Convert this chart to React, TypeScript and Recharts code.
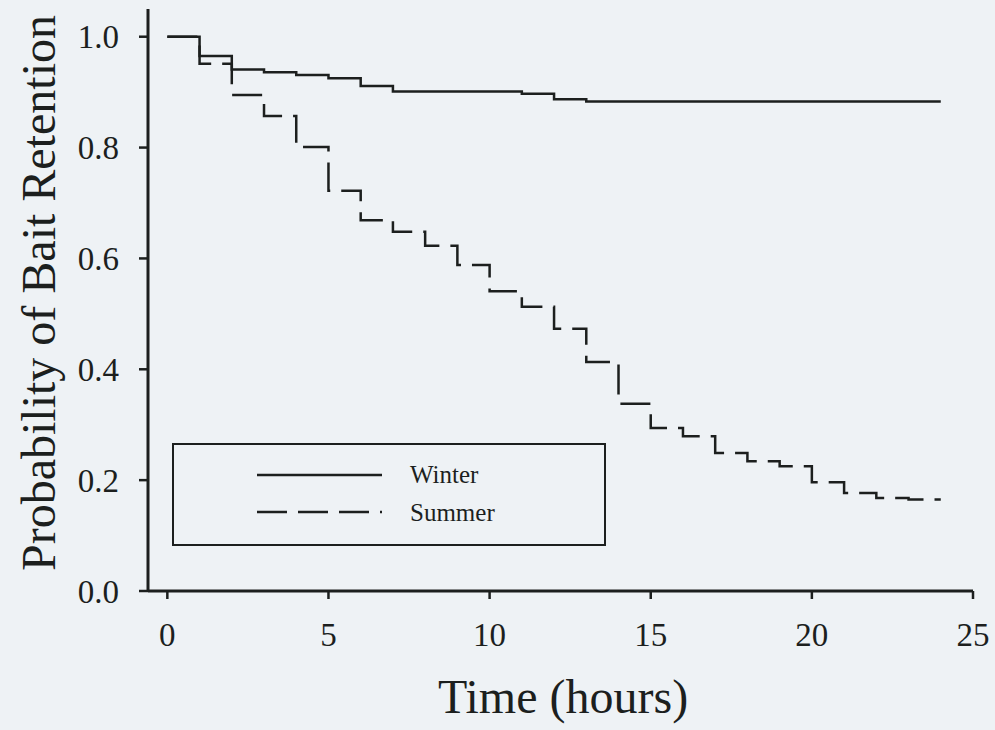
import React from "react";
import {
  LineChart,
  Line,
  XAxis,
  YAxis,
  Legend,
} from "recharts";

// hours since bait placement
const hours = [0, 1, 2, 3, 4, 5, 6, 7, 8, 9, 10, 11, 12, 13, 14, 15, 16, 17, 18, 19, 20, 21, 22, 23, 24];

// Kaplan-Meier style retention estimates
const winter = [
  1.0, 0.965, 0.941, 0.936, 0.931, 0.925, 0.911, 0.901, 0.901, 0.901, 0.901, 0.897, 0.887,
  0.883, 0.883, 0.883, 0.883, 0.883, 0.883, 0.883, 0.883, 0.883, 0.883, 0.883, 0.883,
];
const summer = [
  1.0, 0.951, 0.895, 0.857, 0.801, 0.722, 0.669, 0.648, 0.623, 0.588, 0.541, 0.513, 0.473,
  0.413, 0.338, 0.294, 0.279, 0.249, 0.234, 0.225, 0.196, 0.177, 0.168, 0.165, 0.165,
];

const xTicks = [0, 5, 10, 15, 20, 25];
const yTicks = [0, 0.2, 0.4, 0.6, 0.8, 1.0];

const data = hours.map((t, i) => ({ t, winter: winter[i], summer: summer[i] }));

const INK = "#1c1f1e";
const SERIF = "'Liberation Serif', 'Times New Roman', serif";
const DASH = "30 11";

const tickStyle = { fontFamily: SERIF, fontSize: 33, fill: INK };

const XTitle = () => (
  <text x={563} y={713} textAnchor="middle" fontFamily={SERIF} fontSize={48} fill={INK}>
    Time (hours)
  </text>
);

const YTitle = () => (
  <text
    transform="translate(55,293) rotate(-90)"
    textAnchor="middle"
    fontFamily={SERIF}
    fontSize={48}
    fill={INK}
  >
    Probability of Bait Retention
  </text>
);

function LegendBox() {
  return (
    <div
      style={{
        width: 430,
        height: 99,
        border: `2.5px solid ${INK}`,
        position: "relative",
      }}
    >
      <svg width={430} height={99} style={{ position: "absolute", left: 0, top: 0 }}>
        <line x1={83} x2={208} y1={30} y2={30} stroke={INK} strokeWidth={2.5} />
        <line x1={83} x2={208} y1={67} y2={67} stroke={INK} strokeWidth={2.5} strokeDasharray="30 11" />
        <text x={236} y={38} fontFamily={SERIF} fontSize={25} fill={INK}>
          Winter
        </text>
        <text x={236} y={76} fontFamily={SERIF} fontSize={25} fill={INK}>
          Summer
        </text>
      </svg>
    </div>
  );
}

export default function App() {
  return (
    <div
      style={{
        position: "absolute",
        left: 0,
        top: 0,
        width: 995,
        height: 730,
        background: "#eef2f5",
      }}
    >
      <LineChart
        width={995}
        height={730}
        data={data}
        margin={{ top: 9, right: 22, bottom: 0, left: 0 }}
      >
        <XAxis
          xAxisId="bottom"
          dataKey="t"
          type="number"
          domain={[-0.6, 25]}
          ticks={xTicks}
          allowDataOverflow
          height={139}
          tickSize={8}
          tickMargin={24}
          tick={tickStyle}
          axisLine={{ stroke: INK, strokeWidth: 3 }}
          tickLine={{ stroke: INK, strokeWidth: 2.5 }}
          label={<XTitle />}
        />
        <XAxis
          xAxisId="top"
          orientation="top"
          dataKey="t"
          type="number"
          domain={[-0.6, 25]}
          height={0}
          tick={false}
          tickLine={false}
          axisLine={{ stroke: INK, strokeWidth: 3 }}
        />
        <YAxis
          yAxisId="left"
          type="number"
          domain={[0, 1.05]}
          ticks={yTicks}
          allowDataOverflow
          width={148}
          tickSize={9}
          tickMargin={20}
          tick={tickStyle}
          tickFormatter={(v: number) => v.toFixed(1)}
          axisLine={{ stroke: INK, strokeWidth: 3 }}
          tickLine={{ stroke: INK, strokeWidth: 2.5 }}
          label={<YTitle />}
        />
        <YAxis
          yAxisId="right"
          orientation="right"
          type="number"
          domain={[0, 1.05]}
          width={0}
          tick={false}
          tickLine={false}
          axisLine={{ stroke: INK, strokeWidth: 3 }}
        />
        <Legend
          layout="horizontal"
          verticalAlign="middle"
          align="center"
          wrapperStyle={{ left: 172, top: 443, width: 435, height: 104 }}
          content={() => <LegendBox />}
        />
        <Line
          xAxisId="bottom"
          yAxisId="left"
          type="stepAfter"
          dataKey="winter"
          name="Winter"
          stroke={INK}
          strokeWidth={2.5}
          dot={false}
          activeDot={false}
          isAnimationActive={false}
        />
        <Line
          xAxisId="bottom"
          yAxisId="left"
          type="stepAfter"
          dataKey="summer"
          name="Summer"
          stroke={INK}
          strokeWidth={2.5}
          strokeDasharray={DASH}
          dot={false}
          activeDot={false}
          isAnimationActive={false}
        />
      </LineChart>
    </div>
  );
}
